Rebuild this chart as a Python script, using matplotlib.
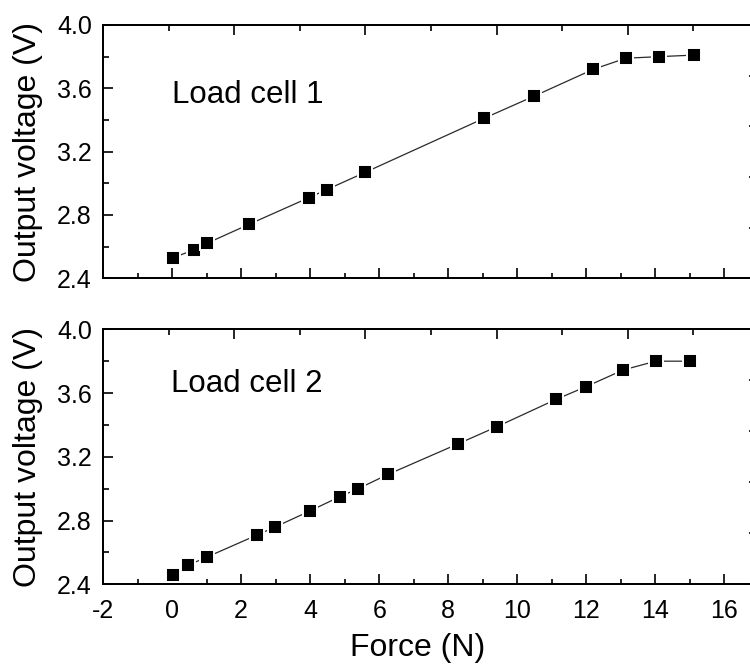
import numpy as np
import matplotlib
matplotlib.use("Agg")
import matplotlib.pyplot as plt
from matplotlib.ticker import MultipleLocator, FixedLocator, NullFormatter, FormatStrFormatter

plt.rcParams['font.family'] = ['Liberation Sans', 'DejaVu Sans']
plt.rcParams['axes.unicode_minus'] = False

# Load cell 1 calibration
force1 = [0.03, 0.64, 1.00, 2.22, 3.97, 4.48, 5.60, 9.03, 10.48, 12.20, 13.14, 14.09, 15.13]
volt1 = [2.53, 2.58, 2.62, 2.74, 2.91, 2.96, 3.07, 3.41, 3.55, 3.72, 3.79, 3.80, 3.81]

# Load cell 2 calibration
force2 = [0.03, 0.47, 1.00, 2.47, 2.99, 3.99, 4.86, 5.39, 6.26, 8.27, 9.42, 11.12, 11.99, 13.07, 14.01, 15.00]
volt2 = [2.46, 2.52, 2.57, 2.71, 2.76, 2.86, 2.95, 3.00, 3.09, 3.28, 3.39, 3.56, 3.64, 3.745, 3.80, 3.80]

panel_labels = ["Load cell 1", "Load cell 2"]
x_label = "Force (N)"
y_label = "Output voltage (V)"

XLIM = (-2, 17)
YLIM = (2.4, 4.0)

W, H = 750, 666
fig = plt.figure(figsize=(W / 100, H / 100), dpi=100)

PX = 72 / 100  # points per pixel

left = 103 / W
width = 656 / W
ax1 = fig.add_axes([left, 1 - 278.3 / H, width, 253.3 / H])
ax2 = fig.add_axes([left, 1 - 584.3 / H, width, 255.0 / H])

label_pos = [(0.105, 0.693), (0.103, 0.755)]
MAJ, MIN, LW = 10 * PX, 5.5 * PX, 1.2

for ax, fx, vy, lab, (tx, ty) in zip((ax1, ax2), (force1, force2), (volt1, volt2),
                                     panel_labels, label_pos):
    ax.plot(fx, vy, color='#2a2a2a', lw=0.9, marker='s', ms=10.2,
            mfc='black', mec='white', mew=1.4, zorder=3)
    ax.set_xlim(*XLIM)
    ax.set_ylim(*YLIM)
    ax.xaxis.set_major_locator(MultipleLocator(2))
    ax.xaxis.set_minor_locator(MultipleLocator(1))
    ax.yaxis.set_major_locator(MultipleLocator(0.4))
    ax.yaxis.set_minor_locator(MultipleLocator(0.2))
    ax.yaxis.set_major_formatter(FormatStrFormatter('%.1f'))
    ax.tick_params(which='both', direction='in', width=LW, labelsize=18,
                   top=False, right=False)
    ax.tick_params(which='major', length=MAJ)
    ax.tick_params(which='minor', length=MIN)
    ax.tick_params(axis='x', pad=10.5)
    ax.tick_params(axis='y', pad=8)
    for s in ax.spines.values():
        s.set_linewidth(LW)
    ax.set_ylabel(y_label, fontsize=23)
    ax.yaxis.set_label_coords((43.5 - 103) / 656, 0.5)
    ax.text(tx, ty, lab, transform=ax.transAxes, fontsize=22.5, va='baseline', ha='left')

    # frame ticks along the top and right edges
    top = ax.twiny()
    top.set_xlim(*XLIM)
    top.xaxis.set_major_locator(FixedLocator(np.linspace(XLIM[0], XLIM[1], 6)))
    top.xaxis.set_minor_locator(FixedLocator(np.linspace(XLIM[0], XLIM[1], 11)))
    top.xaxis.set_major_formatter(NullFormatter())
    top.tick_params(which='both', direction='in', width=LW)
    top.tick_params(which='major', length=MAJ)
    top.tick_params(which='minor', length=MIN)
    right = ax.twinx()
    right.set_ylim(*YLIM)
    right.yaxis.set_major_locator(FixedLocator(np.linspace(YLIM[0], YLIM[1], 6)))
    right.yaxis.set_major_formatter(NullFormatter())
    right.tick_params(which='major', direction='in', width=LW, length=MAJ)
    for a in (top, right):
        for s in a.spines.values():
            s.set_linewidth(LW)

ax1.set_xticklabels([])
ax2.set_xlabel(x_label, fontsize=23)
ax2.xaxis.label.set_va('baseline')
ax2.xaxis.set_label_coords((417.5 - 103) / 656, (584.3 - 656) / 255)

fig.savefig("out.png", dpi=100)
